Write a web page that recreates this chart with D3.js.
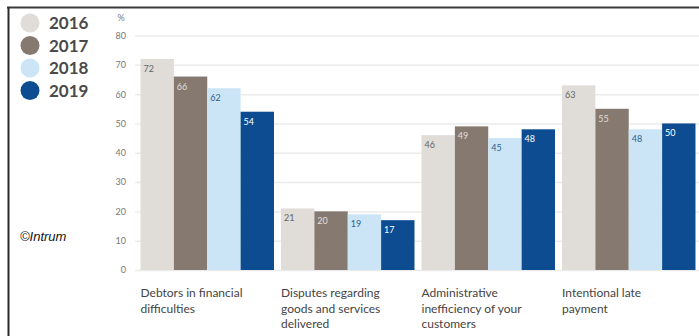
<!DOCTYPE html>
<html><head><meta charset="utf-8">
<script src="https://cdn.jsdelivr.net/npm/d3@7"></script>
<style>body{margin:0;background:#fff;}svg{display:block;}</style>
</head><body>
<svg id="c" width="699" height="336"></svg>
<script>
const categories = [
  ["Debtors in financial", "difficulties"],
  ["Disputes regarding", "goods and services", "delivered"],
  ["Administrative", "inefficiency of your", "customers"],
  ["Intentional late", "payment"]
];
const years = ["2016", "2017", "2018", "2019"];
const v2016 = [72, 21, 46, 63];
const v2017 = [66, 20, 49, 55];
const v2018 = [62, 19, 45, 48];
const v2019 = [54, 17, 48, 50];
const yTicks = [0, 10, 20, 30, 40, 50, 60, 70, 80];
const colors = ["#e0dcd8", "#857970", "#cbe5f6", "#0d4c91"];
const labelColors = ["#666", "#e6dfd8", "#2e5f8f", "#fff"];

const series = [v2016, v2017, v2018, v2019];
const svg = d3.select("#c");
const y = d3.scaleLinear().domain([0, 80]).range([270, 35.5]);
const x0 = d3.scaleBand().domain(d3.range(categories.length)).range([137, 699]).paddingInner(0.05).paddingOuter(0.025);
const x1 = d3.scaleBand().domain(years).range([0, x0.bandwidth()]);

// frame
svg.append("line").attr("x1", 7).attr("x2", 699).attr("y1", 7.5).attr("y2", 7.5).attr("stroke", "#3a3a3a").attr("stroke-width", 2);
svg.append("line").attr("x1", 8.5).attr("x2", 8.5).attr("y1", 7).attr("y2", 336).attr("stroke", "#2a2a2a").attr("stroke-width", 2);

// grid
svg.append("g").selectAll("line").data(yTicks).join("line")
  .attr("x1", 135).attr("x2", 699)
  .attr("y1", d => y(d) + 0.5).attr("y2", d => y(d) + 0.5)
  .attr("stroke", "#ebebeb").attr("stroke-width", 1.5);

// y axis labels
const yAxis = d3.axisLeft(y).tickValues(yTicks).tickSize(0).tickPadding(0);
const ga = svg.append("g").attr("transform", "translate(126,0)").call(yAxis);
ga.select(".domain").remove();
ga.selectAll("text").attr("fill", "#777").attr("font-family", "Lato").attr("font-size", 9);
svg.append("text").attr("x", 121).attr("y", 21).attr("text-anchor", "middle")
  .attr("font-family", "Lato").attr("font-size", 9).attr("fill", "#777").text("%");

// bars
categories.forEach((c, i) => {
  const g = svg.append("g").attr("transform", `translate(${x0(i)},0)`);
  years.forEach((yr, j) => {
    const v = series[j][i];
    g.append("rect").attr("x", x1(yr)).attr("width", x1.bandwidth())
      .attr("y", y(v)).attr("height", y(0) - y(v)).attr("fill", colors[j]);
    g.append("text").attr("x", x1(yr) + 3).attr("y", y(v) + 13)
      .attr("font-family", "Lato").attr("font-size", 9).attr("fill", labelColors[j]).text(v);
  });
  const t = svg.append("text").attr("x", x0(i)).attr("y", 297)
    .attr("font-family", "Lato").attr("font-size", 12).attr("fill", "#444");
  c.forEach((line, k) => t.append("tspan").attr("x", x0(i)).attr("dy", k ? 15.5 : 0).text(line));
});

// legend
years.forEach((yr, j) => {
  const cy = 23 + j * 22.5;
  svg.append("circle").attr("cx", 30).attr("cy", cy).attr("r", 9.5).attr("fill", colors[j]);
  svg.append("text").attr("x", 49).attr("y", cy + 6).attr("font-family", "Lato").attr("font-weight", "bold")
    .attr("font-size", 17).attr("fill", "#4a4a4a").text(yr);
});

svg.append("text").attr("x", 20).attr("y", 241).attr("font-family", "Liberation Sans").attr("font-style", "italic")
  .attr("font-size", 13).attr("fill", "#111").text("©Intrum");
</script>
</body></html>
